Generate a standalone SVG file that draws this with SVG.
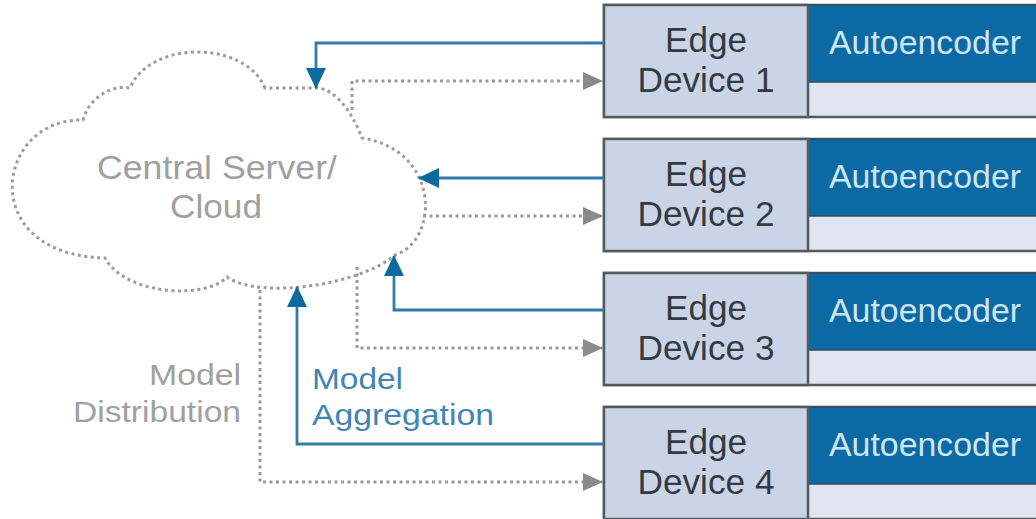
<svg xmlns="http://www.w3.org/2000/svg" width="1036" height="519" viewBox="0 0 1036 519">
  <style>
    text { font-family: "Liberation Sans", Arial, sans-serif; }
    .cloud { fill: #ffffff; stroke: #9c9c9c; stroke-width: 3; stroke-dasharray: 3 3.5; }
    .cloud-label { fill: #a0a0a0; font-size: 33px; text-anchor: middle; }
    .dist-label { fill: #a0a0a0; font-size: 29px; text-anchor: end; }
    .agg-label { fill: #3f86b6; font-size: 29px; text-anchor: start; }
    .agg { fill: none; stroke: #2f7cab; stroke-width: 2.8; }
    .dist { fill: none; stroke: #999999; stroke-width: 3; stroke-dasharray: 3 3.5; }
    .dev-frame { fill: #dfe6f0; stroke: #555a60; stroke-width: 2.5; }
    .dev-name { fill: #c9d5e6; stroke: #555a60; stroke-width: 2.5; }
    .dev-band { fill: #0b69a3; stroke: #3d4a55; stroke-width: 1.5; }
    .dev-text { fill: #353a42; font-size: 35px; text-anchor: middle; }
    .ae-text { fill: #cde6f6; font-size: 33px; text-anchor: middle; }
  </style>
  <defs>
    <marker id="arrowBlue" markerUnits="userSpaceOnUse" markerWidth="22" markerHeight="22" refX="20" refY="10" orient="auto">
      <path d="M0,0 L21,10 L0,20 Z" fill="#0d6aa0"/>
    </marker>
    <marker id="arrowGray" markerUnits="userSpaceOnUse" markerWidth="22" markerHeight="22" refX="20" refY="9" orient="auto">
      <path d="M0,0 L20,9 L0,18 Z" fill="#8a8a8a"/>
    </marker>
  </defs>

  <rect width="1036" height="519" fill="#ffffff"/>

  <!-- Central server / cloud -->
  <g id="cloud">
    <path class="cloud" d="M265,88 C245,40 150,40 130,88 C110,84 88,100 83,120 C-5,118 -25,255 105,258 C125,295 205,300 227,277 C260,300 360,285 395,255 C440,240 440,150 362,138 C352,112 335,88 316,88 Z"/>
    <text class="cloud-label" x="217" y="179" textLength="240" lengthAdjust="spacingAndGlyphs">Central Server/</text>
    <text class="cloud-label" x="216" y="218" textLength="92" lengthAdjust="spacingAndGlyphs">Cloud</text>
  </g>

  <!-- Edge devices -->
  <g id="device1" transform="translate(0,5)">
    <rect class="dev-frame" x="604" y="0" width="440" height="112"/>
    <rect class="dev-band" x="808" y="0" width="236" height="77"/>
    <rect class="dev-name" x="604" y="0" width="204" height="112"/>
    <text class="dev-text" x="706" y="47" textLength="82" lengthAdjust="spacingAndGlyphs">Edge</text>
    <text class="dev-text" x="706" y="87" textLength="137" lengthAdjust="spacingAndGlyphs">Device 1</text>
    <text class="ae-text" x="925" y="49" textLength="192" lengthAdjust="spacingAndGlyphs">Autoencoder</text>
  </g>
  <g id="device2" transform="translate(0,139)">
    <rect class="dev-frame" x="604" y="0" width="440" height="112"/>
    <rect class="dev-band" x="808" y="0" width="236" height="77"/>
    <rect class="dev-name" x="604" y="0" width="204" height="112"/>
    <text class="dev-text" x="706" y="47" textLength="82" lengthAdjust="spacingAndGlyphs">Edge</text>
    <text class="dev-text" x="706" y="87" textLength="137" lengthAdjust="spacingAndGlyphs">Device 2</text>
    <text class="ae-text" x="925" y="49" textLength="192" lengthAdjust="spacingAndGlyphs">Autoencoder</text>
  </g>
  <g id="device3" transform="translate(0,273)">
    <rect class="dev-frame" x="604" y="0" width="440" height="112"/>
    <rect class="dev-band" x="808" y="0" width="236" height="77"/>
    <rect class="dev-name" x="604" y="0" width="204" height="112"/>
    <text class="dev-text" x="706" y="47" textLength="82" lengthAdjust="spacingAndGlyphs">Edge</text>
    <text class="dev-text" x="706" y="87" textLength="137" lengthAdjust="spacingAndGlyphs">Device 3</text>
    <text class="ae-text" x="925" y="49" textLength="192" lengthAdjust="spacingAndGlyphs">Autoencoder</text>
  </g>
  <g id="device4" transform="translate(0,407)">
    <rect class="dev-frame" x="604" y="0" width="440" height="112"/>
    <rect class="dev-band" x="808" y="0" width="236" height="77"/>
    <rect class="dev-name" x="604" y="0" width="204" height="112"/>
    <text class="dev-text" x="706" y="47" textLength="82" lengthAdjust="spacingAndGlyphs">Edge</text>
    <text class="dev-text" x="706" y="87" textLength="137" lengthAdjust="spacingAndGlyphs">Device 4</text>
    <text class="ae-text" x="925" y="49" textLength="192" lengthAdjust="spacingAndGlyphs">Autoencoder</text>
  </g>

  <!-- Connectors: solid blue = aggregation (device to server), dotted gray = distribution -->
  <g id="connectors">
    <path class="agg" d="M604,43 H316 V88" marker-end="url(#arrowBlue)"/>
    <path class="agg" d="M604,178 H419" marker-end="url(#arrowBlue)"/>
    <path class="agg" d="M604,310 H394 V256" marker-end="url(#arrowBlue)"/>
    <path class="agg" d="M604,444 H297 V287" marker-end="url(#arrowBlue)"/>
    <path class="dist" d="M352,110 V81 H603" marker-end="url(#arrowGray)"/>
    <path class="dist" d="M423,216 H603" marker-end="url(#arrowGray)"/>
    <path class="dist" d="M357,267 V348 H603" marker-end="url(#arrowGray)"/>
    <path class="dist" d="M260,290 V482 H603" marker-end="url(#arrowGray)"/>
  </g>

  <!-- Flow labels -->
  <g id="labels">
    <text class="dist-label" x="241" y="385" textLength="92" lengthAdjust="spacingAndGlyphs">Model</text>
    <text class="dist-label" x="241" y="422" textLength="168" lengthAdjust="spacingAndGlyphs">Distribution</text>
    <text class="agg-label" x="312" y="389" textLength="91" lengthAdjust="spacingAndGlyphs">Model</text>
    <text class="agg-label" x="312" y="425" textLength="182" lengthAdjust="spacingAndGlyphs">Aggregation</text>
  </g>
</svg>
